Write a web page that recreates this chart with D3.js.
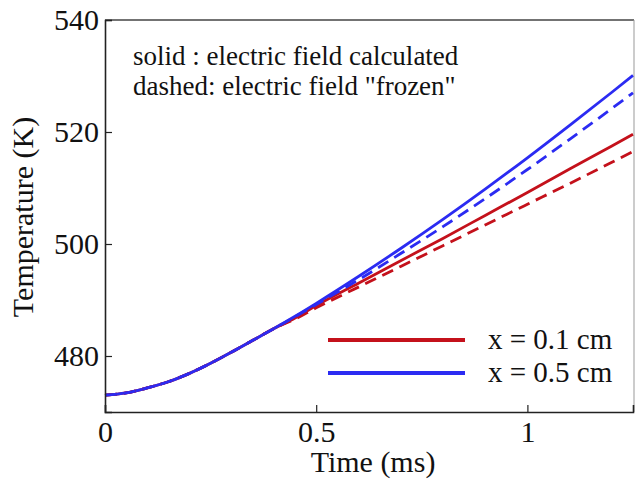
<!DOCTYPE html>
<html>
<head>
<meta charset="utf-8">
<script src="https://cdn.jsdelivr.net/npm/d3@7"></script>
<style>
    body { margin: 0; background: #fff; }
    .curve { fill: none; stroke-width: 2.8; }
    .dashed { stroke-dasharray: 12 7; }
</style>
</head>
<body>
<svg id="canvas" width="636" height="480"></svg>
<script>
// time samples (ms)
const times = [0, 0.05, 0.1, 0.15, 0.2, 0.25, 0.3, 0.35, 0.4, 0.45, 0.5,
    0.6, 0.7, 0.8, 0.9, 1.0, 1.1, 1.2, 1.25];

// temperatures (K)
const redSolid   = [473.0, 473.4, 474.3, 475.4, 476.9, 478.7, 480.7, 482.8, 484.9, 486.8, 489.0,
    493.0, 497.0, 501.0, 505.1, 509.2, 513.4, 517.5, 519.6];
const redDashed  = [473.0, 473.4, 474.3, 475.4, 476.9, 478.7, 480.7, 482.8, 484.9, 486.6, 488.6,
    492.3, 496.0, 499.7, 503.4, 507.1, 510.8, 514.6, 516.5];
const blueSolid  = [473.0, 473.4, 474.3, 475.4, 476.9, 478.7, 480.7, 482.8, 484.9, 487.1, 489.4,
    494.2, 499.2, 504.4, 509.8, 515.4, 521.2, 527.1, 530.1];
const blueDashed = [473.0, 473.4, 474.3, 475.4, 476.9, 478.7, 480.7, 482.8, 484.9, 487.0, 489.2,
    493.6, 498.3, 503.1, 508.1, 513.3, 518.7, 524.2, 527.0];

const xTicks = [0, 0.5, 1];
const yTicks = [480, 500, 520, 540];
const legendLabels = ["x = 0.1 cm", "x = 0.5 cm"];
const noteLines = ["solid : electric field calculated", "dashed: electric field \"frozen\""];

const RED = "#c4111b";
const BLUE = "#2b2bf2";
const SERIF = "'Liberation Serif', 'Times New Roman', serif";

const svg = d3.select("#canvas");
const plotLeft = 105, plotRight = 633, plotTop = 20, plotBottom = 412;

const x = d3.scaleLinear().domain([0, 1.25]).range([plotLeft, plotRight]);
const y = d3.scaleLinear().domain([470, 540]).range([plotBottom, plotTop]);

/**
 * Draws one curve from the shared time samples.
 */
function drawCurve(values, color, dashed) {
    const line = d3.line()
        .x((d, i) => x(times[i]))
        .y(d => y(d))
        .curve(d3.curveMonotoneX);
    svg.append("path")
        .datum(values)
        .attr("class", dashed ? "curve dashed" : "curve")
        .attr("stroke", color)
        .attr("d", line);
}

/**
 * Adds a serif text label.
 */
function addText(txt, size) {
    return svg.append("text")
        .style("font-family", SERIF)
        .style("font-size", size + "px")
        .attr("fill", "#111")
        .text(txt);
}

// frame on top and right
svg.append("line")
    .attr("x1", plotLeft).attr("x2", plotRight + 1)
    .attr("y1", plotTop).attr("y2", plotTop)
    .attr("stroke", "#444").attr("stroke-width", 1.6);
svg.append("line")
    .attr("x1", plotRight + 1).attr("x2", plotRight + 1)
    .attr("y1", plotTop).attr("y2", plotBottom)
    .attr("stroke", "#999").attr("stroke-width", 1);

// curves (dashed drawn over solid)
drawCurve(redSolid, RED, false);
drawCurve(blueSolid, BLUE, false);
drawCurve(redDashed, RED, true);
drawCurve(blueDashed, BLUE, true);

// x axis
const xAxis = svg.append("g").attr("transform", `translate(0,${plotBottom})`);
xAxis.call(d3.axisBottom(x).tickValues(d3.range(0, 1.25, 0.1)).tickSize(-4).tickFormat(""));
xAxis.call(d3.axisBottom(x).tickValues(xTicks).tickSize(-7).tickPadding(9).tickFormat(d3.format("")));

// y axis
const yAxis = svg.append("g").attr("transform", `translate(${plotLeft},0)`);
yAxis.call(d3.axisLeft(y).tickValues(d3.range(470, 541, 5)).tickSize(-4).tickFormat(""));
yAxis.call(d3.axisLeft(y).tickValues(yTicks).tickSize(-7).tickPadding(6).tickFormat(d3.format("")));

svg.selectAll(".domain").attr("stroke", "#222").attr("stroke-width", 1.6);
svg.selectAll(".tick line").attr("stroke", "#222").attr("stroke-width", 1.2);
svg.selectAll(".tick text")
    .style("font-family", SERIF)
    .style("font-size", "30px")
    .attr("fill", "#111");

// axis titles
addText("Time (ms)", 30)
    .attr("x", 373).attr("y", 472)
    .attr("text-anchor", "middle");
addText("Temperature (K)", 30)
    .attr("transform", "translate(33,217) rotate(-90)")
    .attr("text-anchor", "middle");

// note
noteLines.forEach((line, i) => {
    addText(line, 27)
        .attr("x", 133)
        .attr("y", 65 + i * 30);
});

// legend
const legendColors = [RED, BLUE];
legendLabels.forEach((label, i) => {
    const ly = 340 + i * 33;
    svg.append("line")
        .attr("x1", 328).attr("x2", 465)
        .attr("y1", ly).attr("y2", ly)
        .attr("stroke", legendColors[i])
        .attr("stroke-width", 4);
    addText(label, 29)
        .attr("x", 488).attr("y", ly + 9);
});
</script>
</body>
</html>
